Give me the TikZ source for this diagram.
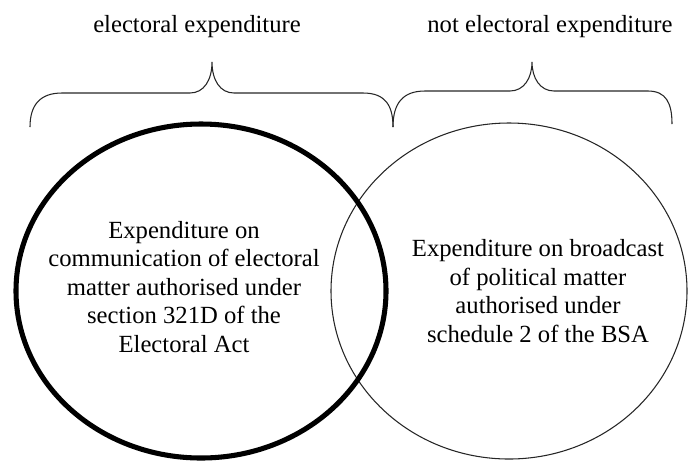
\documentclass[tikz,border=0pt]{standalone}
\usepackage{fontspec}
\setmainfont{Liberation Serif}
\begin{document}
\begin{tikzpicture}[x=0.75pt,y=-0.75pt,
  lbl/.style={inner sep=0pt,align=center,font=\fontsize{18.5}{21.4}\selectfont},
  brace/.style={draw=black!85,line width=0.8pt},
  thin/.style={draw=black!85,line width=0.8pt},
  thick/.style={draw=black,line width=3.8pt}]
\useasboundingbox (0,0) rectangle (688,462);
% circles
\draw[thin] (509,291) ellipse [x radius=178, y radius=168];
\draw[thick] (201,291) ellipse [x radius=185, y radius=167];
% headers
\node[lbl] (h1) at (197,27) {electoral expenditure};
\node[lbl] (h2) at (550,27) {not electoral expenditure};
% braces
\draw[brace] (30,127) .. controls (30,105) and (40,93) .. (62,93) -- (190,93)
  .. controls (204,93) and (212,80) .. (212,62)
  .. controls (212,80) and (220,93) .. (234,93) -- (363,93)
  .. controls (385,93) and (393,105) .. (393,127);
\draw[brace] (393,127) .. controls (393,103) and (403,91) .. (425,91) -- (510,91)
  .. controls (524,91) and (532,78) .. (532,62)
  .. controls (532,78) and (540,91) .. (554,91) -- (648,91)
  .. controls (666,91) and (672,103) .. (672,124);
% texts
\node[lbl] (t1) at (184,287) {Expenditure on\\communication of electoral\\matter authorised under\\section 321D of the\\Electoral Act};
\node[lbl] (t2) at (538,291) {Expenditure on broadcast\\of political matter\\authorised under\\schedule 2 of the BSA};
\end{tikzpicture}
\end{document}
